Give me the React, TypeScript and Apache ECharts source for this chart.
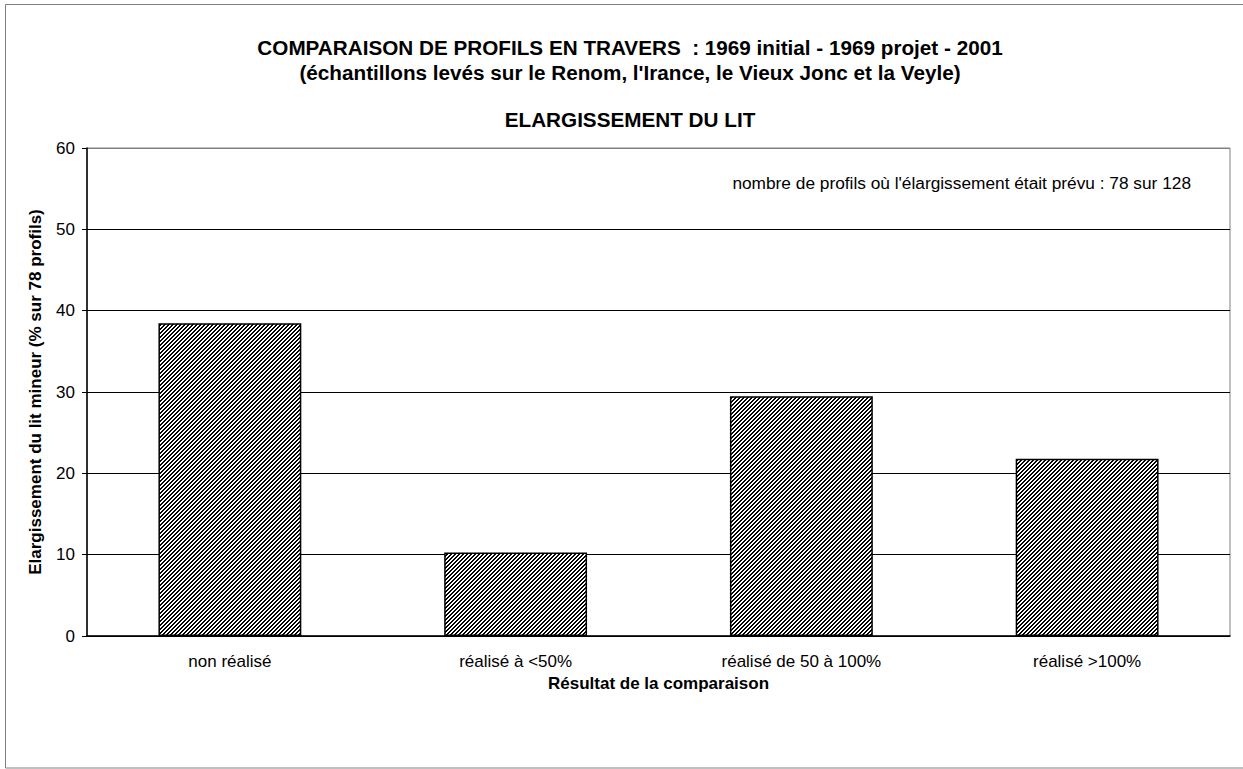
import React, { useEffect, useRef } from "react";
import * as echarts from "echarts";

const categories = ["non réalisé", "réalisé à <50%", "réalisé de 50 à 100%", "réalisé >100%"];
const values = [38.46, 10.26, 29.49, 21.79];
const yTicks = { min: 0, max: 60, interval: 10 };
const titleLine1 = "COMPARAISON DE PROFILS EN TRAVERS  : 1969 initial - 1969 projet - 2001";
const titleLine2 = "(échantillons levés sur le Renom, l'Irance, le Vieux Jonc et la Veyle)";
const titleLine3 = "ELARGISSEMENT DU LIT";
const note = "nombre de profils où l'élargissement était prévu : 78 sur 128";
const xName = "Résultat de la comparaison";
const yName = "Elargissement du lit mineur (% sur 78 profils)";

const FONT = "'Liberation Sans', Arial, sans-serif";

function makeHatch(): HTMLCanvasElement {
  const c = document.createElement("canvas");
  c.width = 4;
  c.height = 4;
  const ctx = c.getContext("2d")!;
  ctx.fillStyle = "#ffffff";
  ctx.fillRect(0, 0, 4, 4);
  ctx.fillStyle = "#000000";
  for (let x = 0; x < 4; x++) {
    for (let y = 0; y < 4; y++) {
      if ((x + y) % 4 < 2) ctx.fillRect(x, y, 1, 1);
    }
  }
  return c;
}

export default function App() {
  const ref = useRef<HTMLDivElement>(null);
  useEffect(() => {
    if (!ref.current) return;
    const chart = echarts.init(ref.current, undefined, { renderer: "svg" });
    const hatch = makeHatch();
    chart.setOption({
      animation: false,
      backgroundColor: "#ffffff",
      textStyle: { fontFamily: FONT },
      grid: {
        left: 87,
        top: 148,
        right: 13,
        bottom: 133,
        show: true,
        borderColor: "#808080",
        borderWidth: 1,
        containLabel: false,
      },
      xAxis: {
        type: "category",
        data: categories,
        axisLine: { lineStyle: { color: "#000", width: 1.5 } },
        axisTick: { show: false },
        axisLabel: { color: "#000", fontSize: 17, fontFamily: FONT, margin: 17 },
        name: xName,
        nameLocation: "middle",
        nameGap: 39,
        nameTextStyle: { color: "#000", fontSize: 17, fontWeight: "bold", fontFamily: FONT },
      },
      yAxis: {
        type: "value",
        min: yTicks.min,
        max: yTicks.max,
        interval: yTicks.interval,
        axisLine: { show: true, lineStyle: { color: "#000", width: 1.5 } },
        axisTick: { show: true, inside: false, length: 5, lineStyle: { color: "#000" } },
        axisLabel: { color: "#000", fontSize: 17, fontFamily: FONT, margin: 12 },
        splitLine: {
          show: true,
          lineStyle: { color: ["#000", "#000", "#000", "#000", "#000", "#000", "#808080"], width: 1 },
        },
        name: yName,
        nameLocation: "middle",
        nameGap: 43,
        nameTextStyle: { color: "#000", fontSize: 17, fontWeight: "bold", fontFamily: FONT },
      },
      series: [
        {
          type: "bar",
          data: values,
          barWidth: "50%",
          itemStyle: {
            color: { image: hatch, repeat: "repeat" },
            borderColor: "#000",
            borderWidth: 1.5,
          },
        },
      ],
      graphic: [
        {
          type: "rect",
          shape: { x: 5.5, y: 4.5, width: 1300, height: 763.5 },
          style: { fill: "none", stroke: "#808080", lineWidth: 1 },
          silent: true,
          z: -1,
        },
        {
          type: "text",
          x: 630,
          y: 47,
          style: {
            text: titleLine1,
            font: `bold 20.7px ${FONT}`,
            fill: "#000",
            align: "center",
            verticalAlign: "middle",
          },
        },
        {
          type: "text",
          x: 630,
          y: 72,
          style: {
            text: titleLine2,
            font: `bold 20.7px ${FONT}`,
            fill: "#000",
            align: "center",
            verticalAlign: "middle",
          },
        },
        {
          type: "text",
          x: 630,
          y: 119,
          style: {
            text: titleLine3,
            font: `bold 20.7px ${FONT}`,
            fill: "#000",
            align: "center",
            verticalAlign: "middle",
          },
        },
        {
          type: "text",
          x: 1191,
          y: 183,
          style: {
            text: note,
            font: `17.3px ${FONT}`,
            fill: "#000",
            align: "right",
            verticalAlign: "middle",
          },
        },
      ],
    });
    return () => chart.dispose();
  }, []);
  return (
    <div
      ref={ref}
      style={{ position: "absolute", left: 0, top: 0, width: 1243, height: 769 }}
    />
  );
}
